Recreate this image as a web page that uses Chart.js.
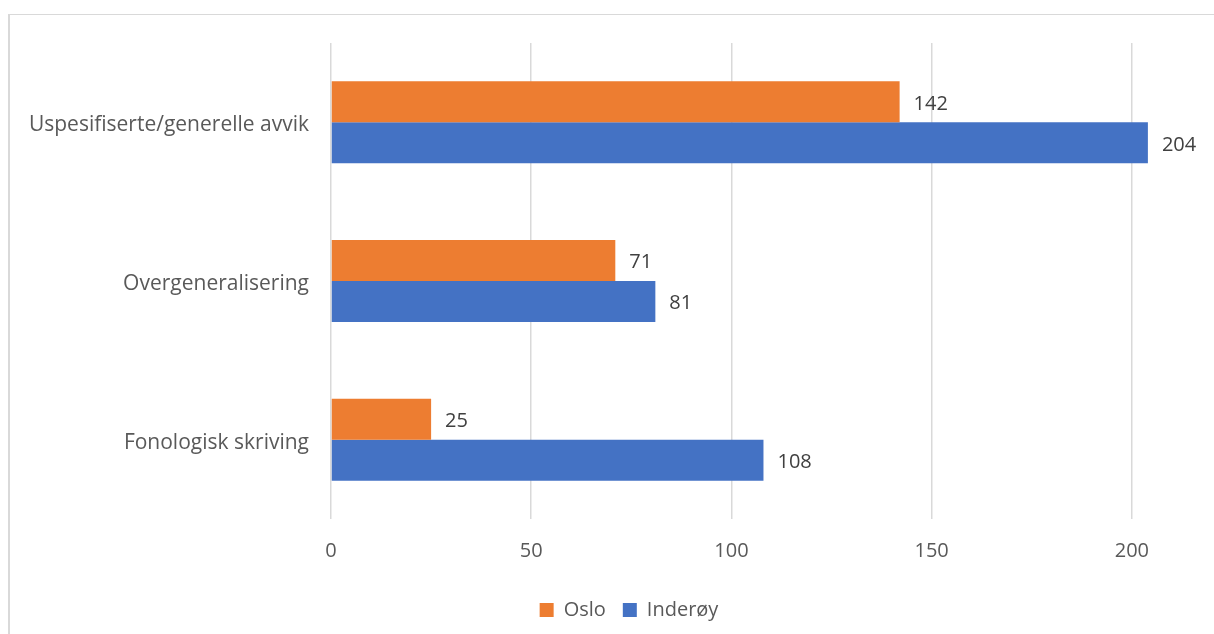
<!DOCTYPE html>
<html>
<head>
<meta charset="utf-8">
<script src="https://cdn.jsdelivr.net/npm/chart.js@4.4.1/dist/chart.umd.min.js"></script>
<style>
  body { margin: 0; background: #fff; overflow: hidden; }
  #frame {
    position: absolute; left: 8px; top: 14px;
    width: 1240px; height: 640px;
    border-top: 1px solid #d9d9d9; border-left: 2px solid #d9d9d9;
  }
  #wrap { position: relative; width: 1238px; height: 622px; }
</style>
</head>
<body>
<div id="frame"><div id="wrap"><canvas id="c"></canvas></div></div>
<script>
const categories = ['Uspesifiserte/generelle avvik', 'Overgeneralisering', 'Fonologisk skriving'];
const osloValues = [142, 71, 25];
const inderoyValues = [204, 81, 108];
const xTicks = [0, 50, 100, 150, 200];

const FONT = '"Open Sans", sans-serif';

// writes the value just past the end of each bar
const barValues = {
  id: 'barValues',
  afterDatasetsDraw(chart) {
    const ctx = chart.ctx;
    ctx.save();
    ctx.font = '20px ' + FONT;
    ctx.fillStyle = '#404040';
    ctx.textAlign = 'left';
    ctx.textBaseline = 'middle';
    chart.data.datasets.forEach((ds, i) => {
      chart.getDatasetMeta(i).data.forEach((bar, j) => {
        ctx.fillText(ds.data[j], bar.x + 14, bar.y + 2);
      });
    });
    ctx.restore();
  }
};

new Chart(document.getElementById('c'), {
  type: 'bar',
  data: {
    labels: categories,
    datasets: [
      { label: 'Oslo', data: osloValues, backgroundColor: '#ED7D31' },
      { label: 'Inderøy', data: inderoyValues, backgroundColor: '#4472C4' }
    ]
  },
  options: {
    indexAxis: 'y',
    responsive: true,
    maintainAspectRatio: false,
    animation: false,
    layout: { padding: { top: 28, bottom: 7 } },
    datasets: { bar: { categoryPercentage: 0.517, barPercentage: 1 } },
    scales: {
      x: {
        min: 0,
        max: 229,
        afterBuildTicks: s => { s.ticks = xTicks.map(v => ({ value: v })); },
        grid: { color: '#d9d9d9', lineWidth: 1.5, drawTicks: false },
        border: { display: false },
        ticks: { color: '#595959', font: { family: FONT, size: 20 }, padding: 20 }
      },
      y: {
        grid: { display: false },
        border: { display: false },
        afterFit: s => { s.width = 321; },
        ticks: { color: '#595959', font: { family: FONT, size: 21 }, padding: 14, labelOffset: 3 }
      }
    },
    plugins: {
      legend: {
        position: 'bottom',
        labels: {
          color: '#595959',
          font: { family: FONT, size: 20 },
          boxWidth: 14, boxHeight: 14, padding: 17
        }
      },
      tooltip: { enabled: false }
    }
  },
  plugins: [barValues]
});
</script>
</body>
</html>
